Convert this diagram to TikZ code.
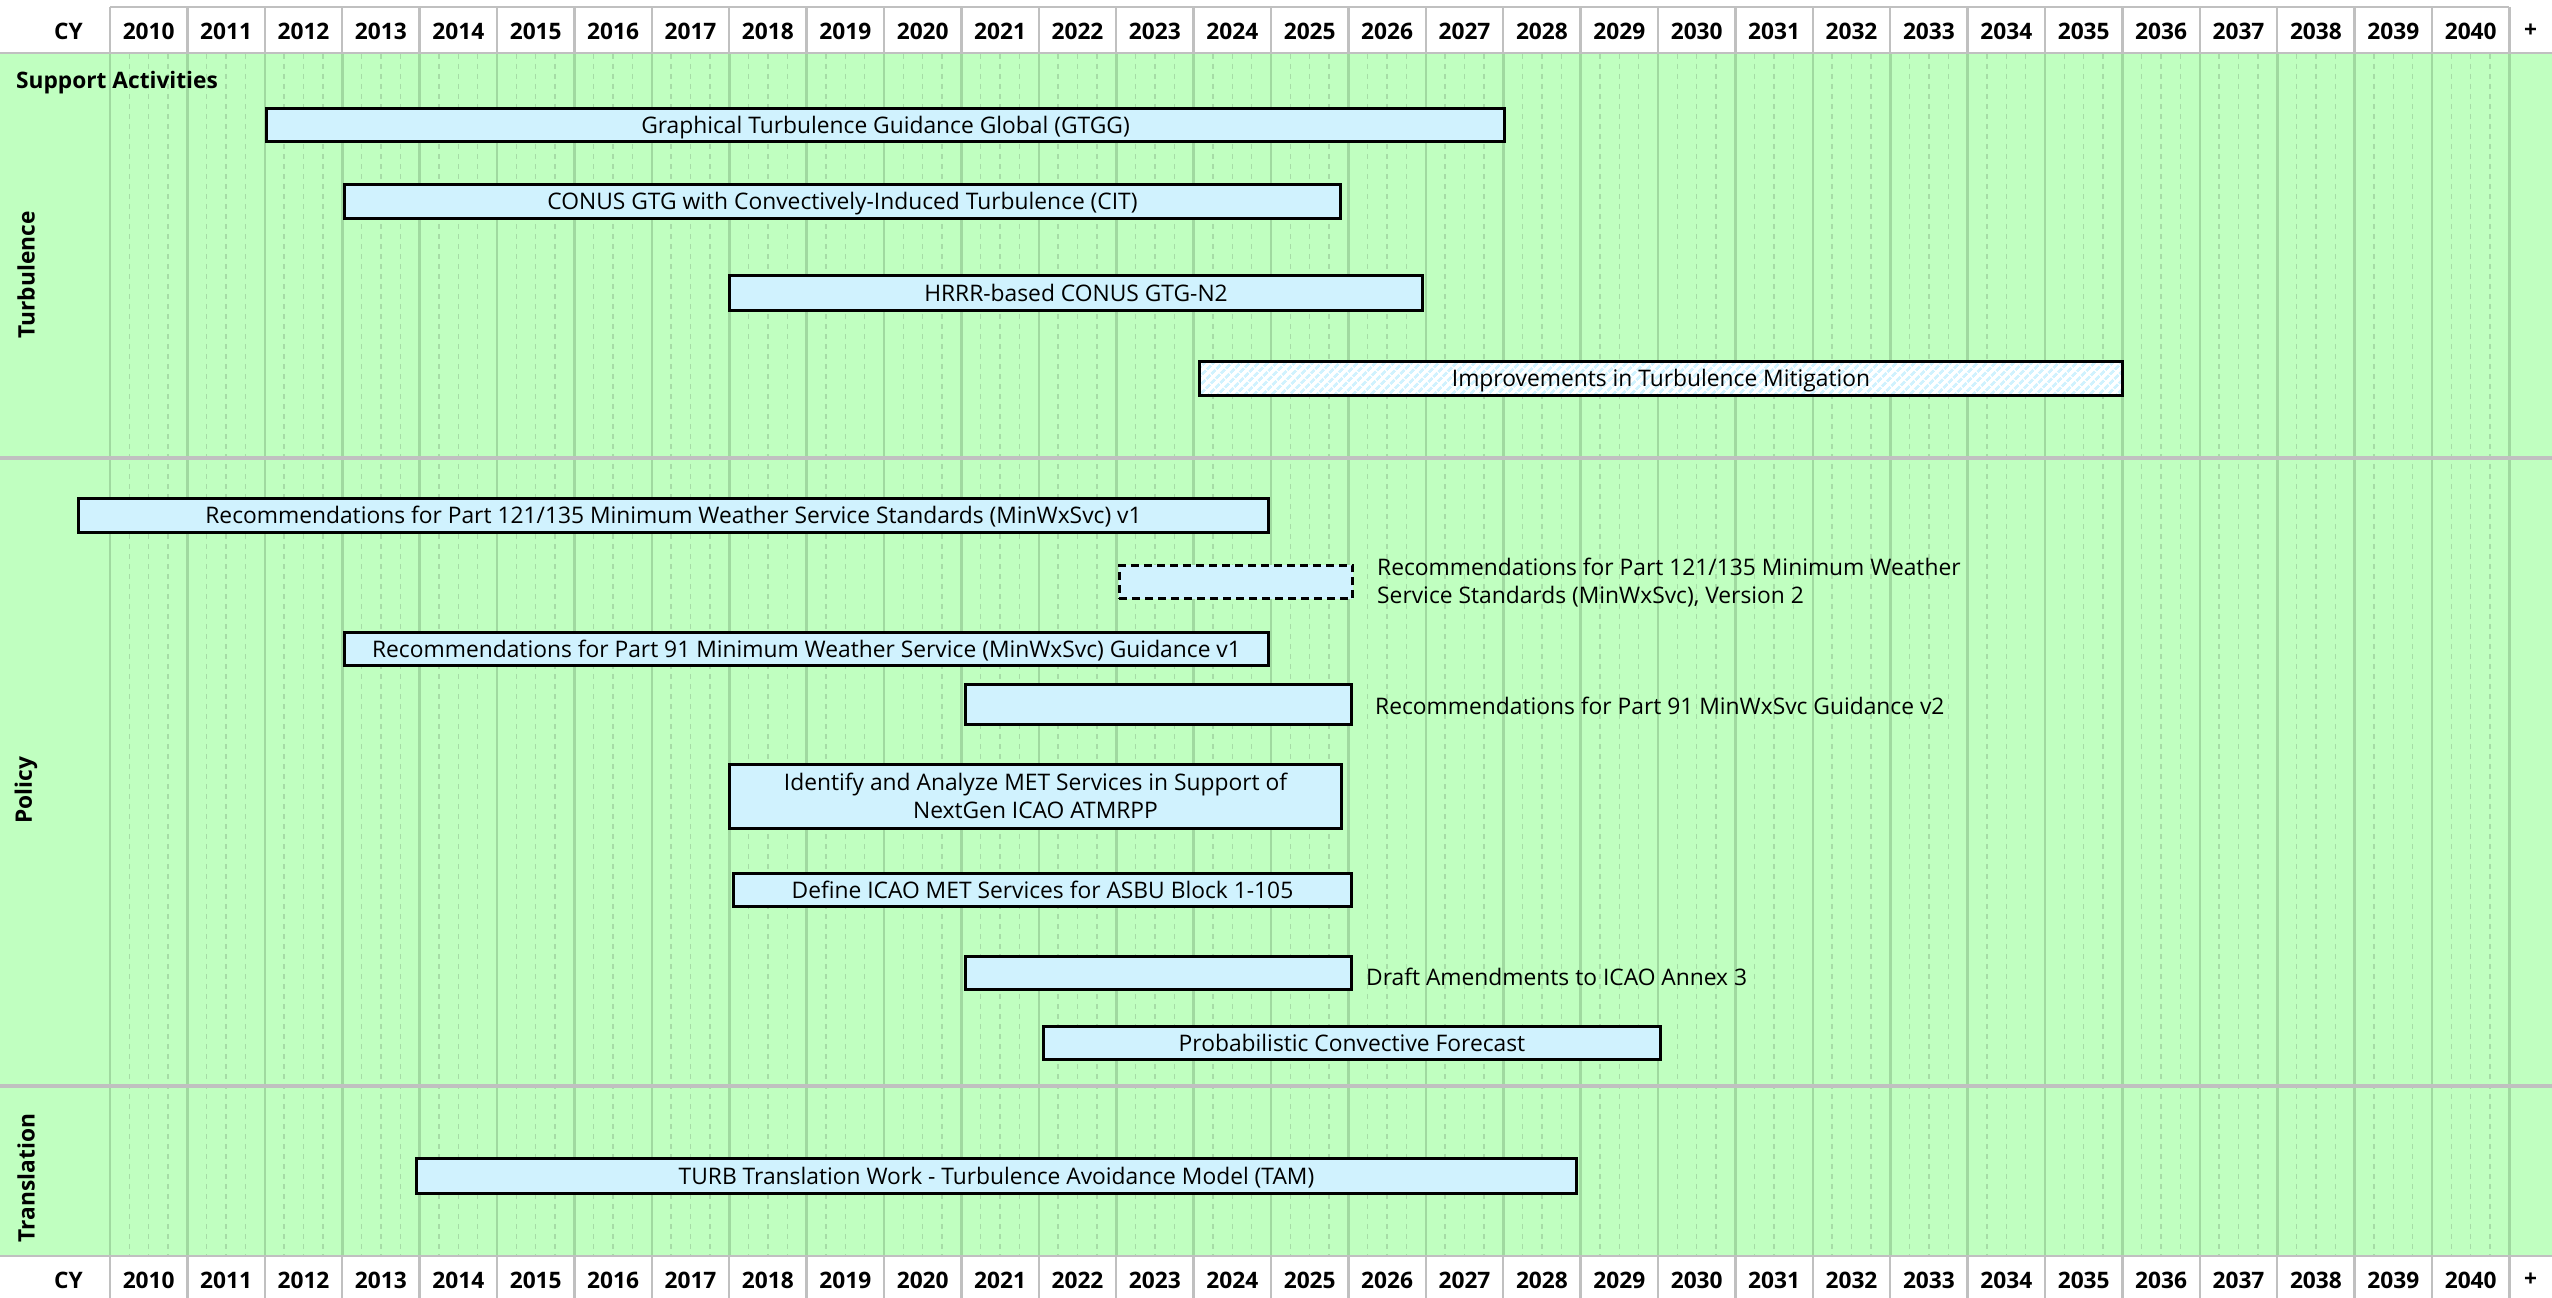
\documentclass[tikz,border=0pt]{standalone}
\usepackage{fontspec}
\setmainfont{Open Sans}
\usetikzlibrary{patterns.meta}
\definecolor{bggreen}{HTML}{C0FFC0}
\definecolor{yearcol}{HTML}{A0D9A0}
\definecolor{qcol}{HTML}{A6DCA6}
\definecolor{sepgray}{HTML}{C0C0C0}
\definecolor{barblue}{HTML}{D0F2FE}
\newcommand\gantt[7]{\node[bar,#1,minimum width=#5pt,minimum height=#6pt] (#2) at (#3,#4) {#7};}
\tikzset{
  every node/.style={font=\fontsize{22.8}{28}\selectfont},
  bar/.style={draw=black, line width=2.6pt, fill=barblue, inner sep=0pt, text height=16pt, text depth=0pt},
  hatchbar/.style={preaction={fill=white}, pattern={Lines[angle=45,distance=6.4pt,line width=3.2pt]}, pattern color=barblue},
  dashbar/.style={dash pattern=on 8pt off 5pt},
  sidelabel/.style={anchor=west, inner sep=0pt, align=left, text height=16pt, text depth=0pt},
  hlabel/.style={font=\fontsize{22.7}{28}\selectfont\bfseries, inner sep=0pt},
  seclabel/.style={font=\fontsize{22.7}{28}\selectfont\bfseries, inner sep=0pt},
  yline/.style={draw=yearcol, line width=2.6pt},
  qline/.style={draw=qcol, line width=1.4pt, dash pattern=on 5pt off 5pt},
  hdrline/.style={draw=sepgray, line width=2.5pt},
  sepline/.style={draw=sepgray, line width=4pt},
}
\begin{document}
\begin{tikzpicture}[x=1pt,y=-1pt]
\useasboundingbox (0,0) rectangle (2552,1298);
% background
\fill[white] (0,0) rectangle (2552,1298);
\fill[bggreen] (0,53) rectangle (2552,1256);
% grid
\foreach \i in {0,...,30}{
  \foreach \j in {1,2,3}{
    \draw[qline] ({110+77.4*\i+19.35*\j},54) -- ({110+77.4*\i+19.35*\j},1255);
  }
}
\foreach \i in {0,...,31}{
  \draw[yline] ({110+77.4*\i},54) -- ({110+77.4*\i},1255);
}
% section separators
\draw[sepline] (0,458) -- (2552,458);
\draw[sepline] (0,1086) -- (2552,1086);
% section labels
\node[seclabel, anchor=west] (sa) at (16,83) {Support Activities};
\node[seclabel, rotate=90] (turb) at (26,275) {Turbulence};
\node[seclabel, rotate=90] (pol) at (26,790) {Policy};
\node[seclabel, rotate=90] (trans) at (26,1178) {Translation};
% bars
\gantt{}{gtgg}{885.5}{125}{1238.5}{33.5}{Graphical Turbulence Guidance Global (GTGG)}
\gantt{}{cit}{842.5}{201.5}{996.5}{34.5}{CONUS GTG with Convectively-Induced Turbulence (CIT)}
\gantt{}{hrrr}{1076}{293}{693.5}{35.5}{HRRR-based CONUS GTG-N2}
\gantt{hatchbar}{imp}{1661}{378.5}{923.5}{34.5}{Improvements in Turbulence Mitigation}
\gantt{}{min1}{673.5}{515.5}{1190.5}{34.5}{Recommendations for Part 121/135 Minimum Weather Service Standards (MinWxSvc) v1}
\gantt{dashbar}{min2}{1236}{582}{233.5}{33.5}{}
\gantt{}{pa}{806.5}{649}{924.5}{33.5}{Recommendations for Part 91 Minimum Weather Service (MinWxSvc) Guidance v1}
\gantt{}{pb}{1158.5}{704.5}{386.5}{40.5}{}
\gantt{}{ident}{1035.5}{796.5}{612.5}{64.5}{}
\gantt{}{icao}{1042.5}{890}{618.5}{33.5}{Define ICAO MET Services for ASBU Block 1-105}
\gantt{}{draft}{1158.5}{973}{386.5}{33.5}{}
\gantt{}{prob}{1352}{1043}{617.5}{33.5}{Probabilistic Convective Forecast}
\gantt{}{tam}{996.5}{1176}{1160.5}{35.5}{TURB Translation Work - Turbulence Avoidance Model (TAM)}
% labels beside / inside bars
\node[inner sep=0pt, align=center] (identlbl) at ([yshift=1pt]ident.center) {Identify and Analyze MET Services in Support of\\NextGen ICAO ATMRPP};
\node[inner sep=0pt, anchor=west, align=left] (min2lbl) at (1377,583) {Recommendations for Part 121/135 Minimum Weather\\Service Standards (MinWxSvc), Version 2};
\node[sidelabel] (pblbl) at (1375,706) {Recommendations for Part 91 MinWxSvc Guidance v2};
\node[sidelabel] (draftlbl) at (1366,977) {Draft Amendments to ICAO Annex 3};
% top header
\fill[white] (0,0) rectangle (2552,52);
\draw[hdrline] (110,7) -- (2509.4,7);
\foreach \i in {0,...,31}{
  \draw[hdrline] ({110+77.4*\i},7) -- ({110+77.4*\i},53);
}
\draw[hdrline] (0,53) -- (2552,53);
\node[hlabel, anchor=east] (cyt) at (83,31) {CY};
\foreach \i in {0,...,30}{
  \pgfmathtruncatemacro\yr{2010+\i}
  \node[hlabel] (t\i) at ({110+77.4*(\i+0.5)},31) {\yr};
}
\node[hlabel] (tplus) at (2530.5,31) {+};
% bottom header
\fill[white] (0,1257) rectangle (2552,1298);
\draw[hdrline] (0,1256) -- (2552,1256);
\foreach \i in {0,...,31}{
  \draw[hdrline] ({110+77.4*\i},1256) -- ({110+77.4*\i},1298);
}
\node[hlabel, anchor=east] (cyb) at (83,1280) {CY};
\foreach \i in {0,...,30}{
  \pgfmathtruncatemacro\yr{2010+\i}
  \node[hlabel] (b\i) at ({110+77.4*(\i+0.5)},1280) {\yr};
}
\node[hlabel] (bplus) at (2530.5,1280) {+};
\end{tikzpicture}
\end{document}
